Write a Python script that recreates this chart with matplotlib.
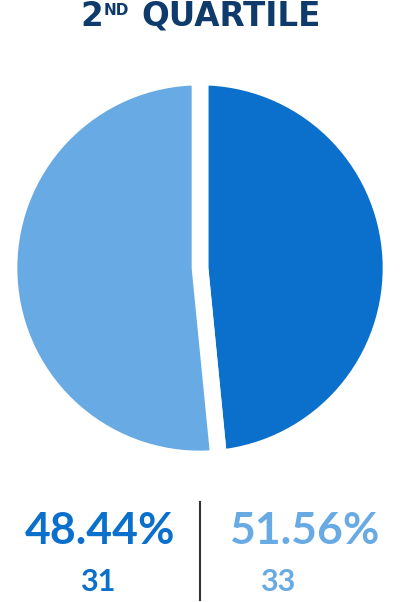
import matplotlib
matplotlib.use("Agg")
import matplotlib.pyplot as plt

# data
labels = ["dark", "light"]
counts = [31, 33]
percents = ["48.44%", "51.56%"]
colors = ["#0B6FCC", "#68AAE3"]
title_color = "#0F3B6C"

W, H = 400, 602
fig = plt.figure(figsize=(W / 100, H / 100), dpi=100)
fig.patch.set_facecolor("white")
ax = fig.add_axes([0, 0, 1, 1])
ax.set_xlim(0, W)
ax.set_ylim(0, H)
ax.set_aspect("equal")
ax.axis("off")

# pie, dark slice clockwise from 12 o'clock
ax.pie(counts, colors=colors, startangle=90, counterclock=False,
       center=(200, H - 268), radius=191,
       wedgeprops=dict(edgecolor="white", linewidth=12))
ax.set_xlim(0, W)
ax.set_ylim(0, H)

def px(x, y):
    return x / W, 1 - y / H

tfont = "DejaVu Sans"
font = "Lato"

# title: 2^ND QUARTILE
fig.text(*px(80, 26), "2", color=title_color, fontsize=23.5, fontweight="bold",
         family=tfont, ha="left", va="baseline")
fig.text(*px(104, 15), "ND", color=title_color, fontsize=11, fontweight="bold",
         family=tfont, ha="left", va="baseline")
fig.text(*px(141, 26), "QUARTILE", color=title_color, fontsize=23.5, fontweight="bold",
         family=tfont, ha="left", va="baseline")

# bottom figures
fig.text(*px(100, 544), percents[0], color=colors[0], fontsize=32, fontweight="bold",
         family=font, ha="center", va="baseline")
fig.text(*px(98, 591), str(counts[0]), color=colors[0], fontsize=22, fontweight="bold",
         family=font, ha="center", va="baseline")
fig.text(*px(304, 544), percents[1], color=colors[1], fontsize=32, fontweight="bold",
         family=font, ha="center", va="baseline")
fig.text(*px(278, 591), str(counts[1]), color=colors[1], fontsize=22, fontweight="bold",
         family=font, ha="center", va="baseline")

# divider
ax.plot([200, 200], [H - 502, H - 600], color="#333333", linewidth=1.5)

fig.savefig("out.png", dpi=100, facecolor="white")
